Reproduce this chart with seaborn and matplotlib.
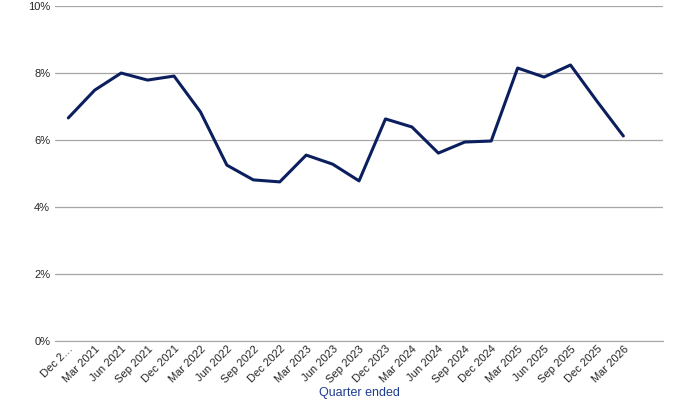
import matplotlib
matplotlib.use("Agg")
import matplotlib.pyplot as plt
import seaborn as sns
import pandas as pd
from matplotlib.ticker import FuncFormatter

quarters = ["Dec 2…", "Mar 2021", "Jun 2021", "Sep 2021", "Dec 2021", "Mar 2022", "Jun 2022",
            "Sep 2022", "Dec 2022", "Mar 2023", "Jun 2023", "Sep 2023", "Dec 2023", "Mar 2024",
            "Jun 2024", "Sep 2024", "Dec 2024", "Mar 2025", "Jun 2025", "Sep 2025", "Dec 2025", "Mar 2026"]
values = [6.66, 7.49, 8.0, 7.79, 7.91, 6.84, 5.25, 4.81, 4.75, 5.55, 5.28, 4.78, 6.63, 6.39,
          5.61, 5.94, 5.97, 8.15, 7.88, 8.24, 7.16, 6.12]

df = pd.DataFrame({"x": range(len(quarters)), "v": values})
sns.set_style("white")
plt.rcParams['font.family'] = ['Liberation Sans', 'DejaVu Sans']
fig = plt.figure(figsize=(6.8, 4.04), dpi=100)
ax = fig.add_axes([0.081, 0.156, 0.894, 0.829])
sns.lineplot(data=df, x="x", y="v", ax=ax, color="#0b1f5e", linewidth=2.2)
ax.set_ylim(0, 10)
ax.set_xlim(-0.5, 22.5)
ax.set_yticks(range(0, 11, 2))
ax.yaxis.set_major_formatter(FuncFormatter(lambda v, p: f"{int(v)}%"))
ax.set_xticks(range(len(quarters)))
ax.set_xticklabels(quarters, rotation=45, ha="right", rotation_mode="anchor", fontsize=8)
ax.tick_params(axis="y", labelsize=8, length=0)
ax.tick_params(axis="x", length=0, pad=2)
ax.grid(axis="y", color="#a6a6a6", linewidth=0.9)
for s in ["top", "right", "left"]:
    ax.spines[s].set_visible(False)
ax.spines["bottom"].set_color("#a6a6a6")
ax.set_ylabel("")
ax.set_xlabel("Quarter ended", color="#1f3d8f", fontsize=9, labelpad=2)
fig.savefig("out.png", dpi=100)
